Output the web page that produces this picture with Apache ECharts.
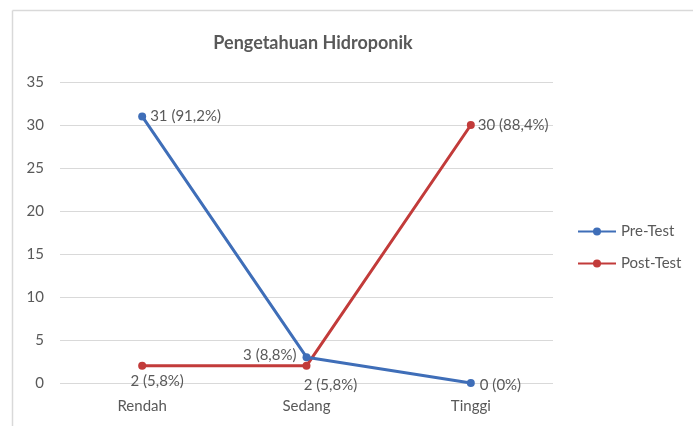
<!DOCTYPE html>
<html><head><meta charset="utf-8">
<script src="https://cdn.jsdelivr.net/npm/echarts@6/dist/echarts.min.js"></script>
<style>html,body{margin:0;padding:0;background:#fff}#c{width:693px;height:426px}</style>
</head><body><div id="c"></div>
<script>
var categories = ['Rendah', 'Sedang', 'Tinggi'];
var preTest = [31, 3, 0];
var postTest = [2, 2, 30];
var preLabels = ['31 (91,2%)', '3 (8,8%)', '0 (0%)'];
var postLabels = ['2 (5,8%)', '2 (5,8%)', '30 (88,4%)'];
var yTicks = [0, 5, 10, 15, 20, 25, 30, 35];

var FONT = 'Lato, "Open Sans", sans-serif';
var TXT = '#595959';
var BLUE = '#3F6EB8';
var RED = '#C23B3A';
var FS = 15;

var preLabelCfg = [
  {position: 'right', distance: 4},
  {position: 'left', distance: 6, offset: [0, -2]},
  {position: 'right', distance: 5, offset: [0, 2]}
];
var postLabelCfg = [
  {position: 'bottom', distance: 4, offset: [15, 0]},
  {position: 'bottom', distance: 8, offset: [24, 0]},
  {position: 'right', distance: 3}
];

function build(vals, labels, cfg) {
  return vals.map(function (v, i) {
    return {value: v, label: Object.assign({show: true, formatter: labels[i], color: TXT, fontSize: FS, fontFamily: FONT}, cfg[i])};
  });
}

var chart = echarts.init(document.getElementById('c'), null, {renderer: 'canvas'});
chart.setOption({
  animation: false,
  backgroundColor: '#fff',
  graphic: [
    {type: 'line', shape: {x1: 12.5, y1: 10.5, x2: 12.5, y2: 426}, style: {stroke: '#d9d9d9', lineWidth: 1.5}, silent: true},
    {type: 'line', shape: {x1: 12.5, y1: 10.5, x2: 693, y2: 10.5}, style: {stroke: '#d9d9d9', lineWidth: 1.5}, silent: true}
  ],
  title: {text: 'Pengetahuan Hidroponik', left: 308, top: 29, textAlign: 'center',
    textStyle: {fontFamily: FONT, fontSize: 18, fontWeight: 'bold', color: TXT}},
  legend: {orient: 'vertical', left: 572, top: 219, itemGap: 17, itemWidth: 38, itemHeight: 10,
    textStyle: {fontFamily: FONT, fontSize: FS, color: TXT}, data: ['Pre-Test', 'Post-Test']},
  grid: {left: 60, right: 140, top: 82, bottom: 43, containLabel: false},
  xAxis: {type: 'category', data: categories, boundaryGap: true,
    axisLine: {show: false}, axisTick: {show: false},
    axisLabel: {color: TXT, fontFamily: FONT, fontSize: FS, margin: 16}},
  yAxis: {type: 'value', min: yTicks[0], max: yTicks[yTicks.length - 1], interval: 5,
    axisLine: {show: false}, axisTick: {show: false},
    axisLabel: {color: TXT, fontFamily: FONT, fontSize: FS, margin: 16},
    splitLine: {lineStyle: {color: '#d9d9d9', width: 1}}},
  series: [
    {name: 'Pre-Test', type: 'line', data: build(preTest, preLabels, preLabelCfg), symbol: 'circle', symbolSize: 8,
      lineStyle: {color: BLUE, width: 3}, itemStyle: {color: BLUE}, z: 3},
    {name: 'Post-Test', type: 'line', data: build(postTest, postLabels, postLabelCfg), symbol: 'circle', symbolSize: 8,
      lineStyle: {color: RED, width: 3}, itemStyle: {color: RED}, z: 2}
  ]
});
</script></body></html>
